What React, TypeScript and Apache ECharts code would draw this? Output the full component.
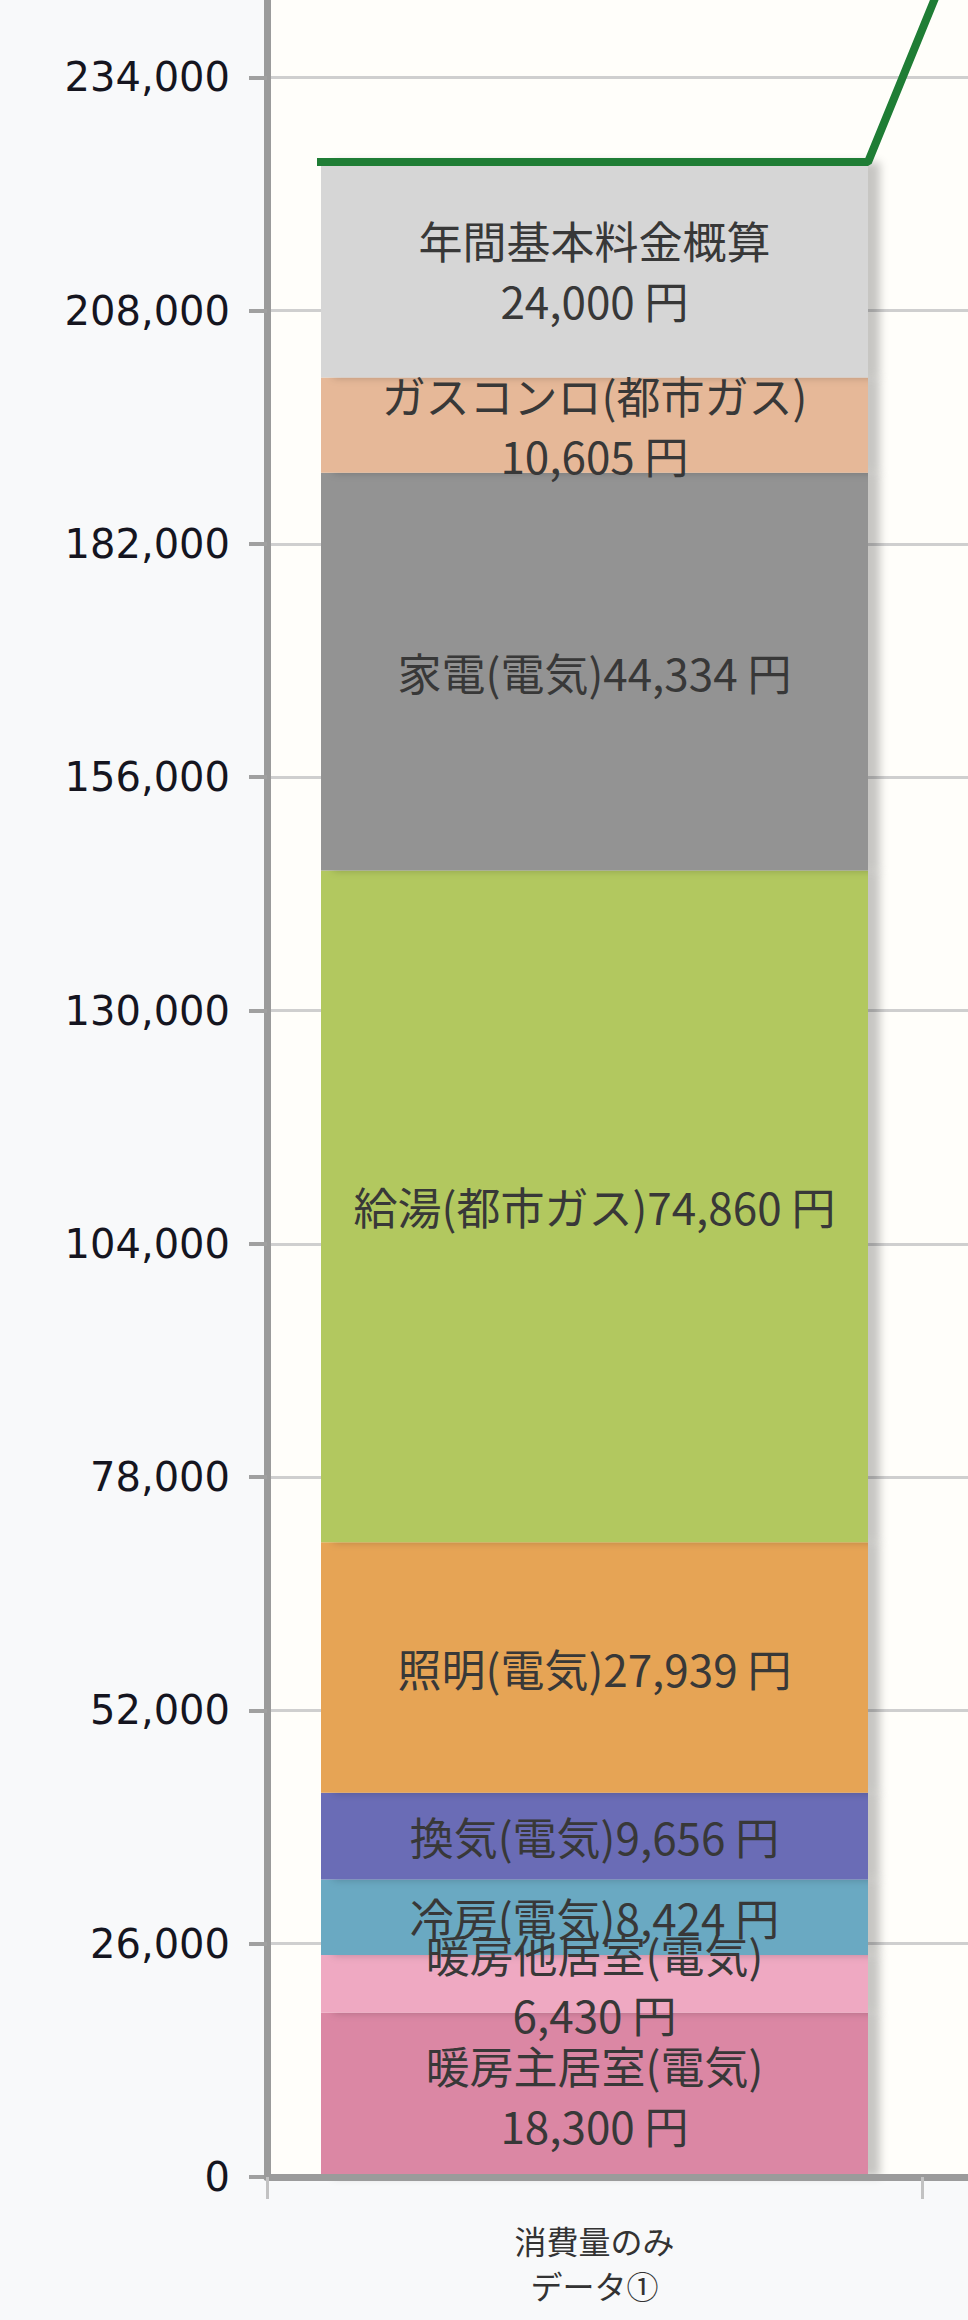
import React, { useEffect, useRef } from 'react'
import * as echarts from 'echarts'

// カテゴリ（2本目は画面外）
const categories = ['消費量のみ\nデータ①', '']

// 積み上げ順（下から上）
const segmentNames = [
  '暖房主居室(電気)',
  '暖房他居室(電気)',
  '冷房(電気)',
  '換気(電気)',
  '照明(電気)',
  '給湯(都市ガス)',
  '家電(電気)',
  'ガスコンロ(都市ガス)',
  '年間基本料金概算',
]
const segmentValues = [18300, 6430, 8424, 9656, 27939, 74860, 44334, 10605, 24000]
const segmentColors = [
  '#db87a4', '#efa9c2', '#6aa9c2', '#6a6cb6', '#e6a455',
  '#b2c85e', '#939393', '#e6b898', '#d6d6d6',
]

// 合計ライン（2本目の値は画面外のため推定）
const totalLine = [224548, 254000]

// Y 軸目盛
const yMin = 0
const yMax = 260000
const yInterval = 26000

const LABEL_FONT = '"Noto Sans CJK JP", "Noto Sans CJK SC", sans-serif'
const BAR_WIDTH = 547
const CATEGORY_WIDTH = 655
const LABEL_SIZE = 44

export default function App() {
  const chartRef = useRef<HTMLDivElement>(null)

  useEffect(() => {
    if (!chartRef.current) return
    document.body.style.margin = '0'

    const chart = echarts.init(chartRef.current, undefined, { renderer: 'svg' })

    // ラベル幅を測って、棒の幅の 9 割を超えたら改行
    const ctx = document.createElement('canvas').getContext('2d')!
    ctx.font = `${LABEL_SIZE}px ${LABEL_FONT}`
    const labelText = (name: string, value: number) => {
      const v = value.toLocaleString('en-US') + ' 円'
      const w = ctx.measureText(name + v).width
      return w > BAR_WIDTH * 0.9 ? name + '\n' + v : name + v
    }

    const half = BAR_WIDTH / CATEGORY_WIDTH / 2
    const linePoints: number[][] = []
    totalLine.forEach((t, i) => {
      linePoints.push([i - half, t], [i + half, t])
    })

    const barSeries = segmentNames.map((name, i) => ({
      name,
      type: 'bar',
      stack: 'total',
      barWidth: BAR_WIDTH,
      data: [segmentValues[i], '-'],
      itemStyle: {
        color: segmentColors[i],
        shadowColor: 'rgba(0,0,0,0.22)',
        shadowBlur: 8,
        shadowOffsetX: 12,
      },
      label: {
        show: true,
        position: 'inside',
        fontSize: LABEL_SIZE,
        lineHeight: 60,
        fontFamily: LABEL_FONT,
        color: '#383838',
        formatter: (p: any) => labelText(name, p.value),
      },
    }))

    const option = {
      animation: false,
      backgroundColor: '#f8f9fa',
      grid: {
        left: 267,
        width: CATEGORY_WIDTH * categories.length,
        top: -156,
        bottom: 143,
        outerBoundsMode: 'none',
        containLabel: false,
        show: true,
        backgroundColor: '#fffefa',
        borderWidth: 0,
      },
      xAxis: [
        {
          type: 'category',
          data: categories,
          z: 3,
          axisLine: { lineStyle: { color: '#9b9b9b', width: 7 } },
          axisTick: { show: true, length: 22, lineStyle: { color: '#c2c2c2', width: 3 } },
          axisLabel: {
            fontSize: 32,
            lineHeight: 45,
            color: '#333',
            margin: 40,
            fontFamily: LABEL_FONT,
          },
        },
        {
          type: 'value',
          min: -0.5,
          max: categories.length - 0.5,
          show: false,
        },
      ],
      yAxis: {
        type: 'value',
        min: yMin,
        max: yMax,
        interval: yInterval,
        axisLine: {
          show: true,
          onZero: false,
          lineStyle: { color: '#9b9b9b', width: 7 },
        },
        axisTick: { show: true, length: 18, lineStyle: { color: '#a0a0a0', width: 4 } },
        axisLabel: {
          fontSize: 40,
          fontFamily: '"DejaVu Sans", Verdana, sans-serif',
          color: '#15151f',
          margin: 37,
          showMaxLabel: false,
          formatter: (v: number) => v.toLocaleString('en-US'),
        },
        splitLine: { lineStyle: { color: '#cfcfcf', width: 3 } },
      },
      series: [
        ...barSeries,
        {
          name: '合計',
          type: 'line',
          xAxisIndex: 1,
          data: linePoints,
          symbol: 'none',
          z: 5,
          lineStyle: { color: '#1f7d35', width: 8, cap: 'square' },
        },
      ],
    }

    chart.setOption(option)

    return () => {
      chart.dispose()
    }
  }, [])

  return <div ref={chartRef} style={{ width: 968, height: 2320 }} />
}
